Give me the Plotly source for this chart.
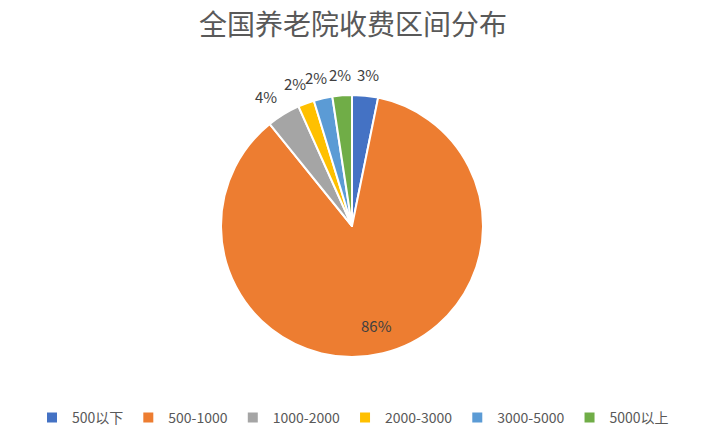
import math
import plotly.graph_objects as go

categories = ["500以下", "500-1000", "1000-2000", "2000-3000", "3000-5000", "5000以上"]
values = [3.2, 86.0, 4.1, 2.0, 2.3, 2.4]
colors = ["#4472C4", "#ED7D31", "#A5A5A5", "#FFC000", "#5B9BD5", "#70AD47"]
title = "全国养老院收费区间分布"

W, H = 706, 444
cx, cy, r = 352, 226, 131  # pie centre/radius in pixels (top-left origin)

fig = go.Figure(go.Pie(
    labels=categories,
    values=values,
    sort=False,
    direction="clockwise",
    rotation=0,
    marker=dict(colors=colors, line=dict(color="white", width=2)),
    textinfo="none",
    domain=dict(x=[(cx - r) / W, (cx + r) / W], y=[(H - cy - r) / H, (H - cy + r) / H]),
    hoverinfo="label+percent",
))

# data labels, placed along each slice's mid-angle (Excel style, no leader lines)
total = sum(values)
annotations = []
cum = 0.0
for i, v in enumerate(values):
    frac = v / total
    mid = (cum + frac / 2) * 2 * math.pi  # clockwise from 12 o'clock
    cum += frac
    if frac > 0.5:
        rad = 0.78 * r
        side = 0
    else:
        rad = r + 21
        side = 12
    px = cx + rad * math.sin(mid) + side * math.sin(mid)
    py = cy - rad * math.cos(mid)
    annotations.append(dict(
        x=px / W, y=1 - py / H, xref="paper", yref="paper",
        text=f"{round(frac * 100):d}%", showarrow=False,
        xanchor="center", yanchor="middle",
        font=dict(size=15, color="#404040"),
    ))

fig.update_layout(
    width=W, height=H,
    margin=dict(l=0, r=0, t=0, b=0),
    paper_bgcolor="white",
    font=dict(family="Noto Sans CJK SC, Noto Sans, sans-serif", color="#595959"),
    title=dict(text=title, x=0.5, xanchor="center", y=1 - 25 / H, yanchor="middle",
               font=dict(size=28, color="#595959")),
    legend=dict(orientation="h", x=0.5, xanchor="center", y=(H - 418) / H, yanchor="middle",
                font=dict(size=14, color="#595959"), itemwidth=30, traceorder="normal"),
    showlegend=True,
    annotations=annotations,
)

fig.write_html("out.html", config={"displayModeBar": False},
               post_script="document.body.style.margin='0';")
